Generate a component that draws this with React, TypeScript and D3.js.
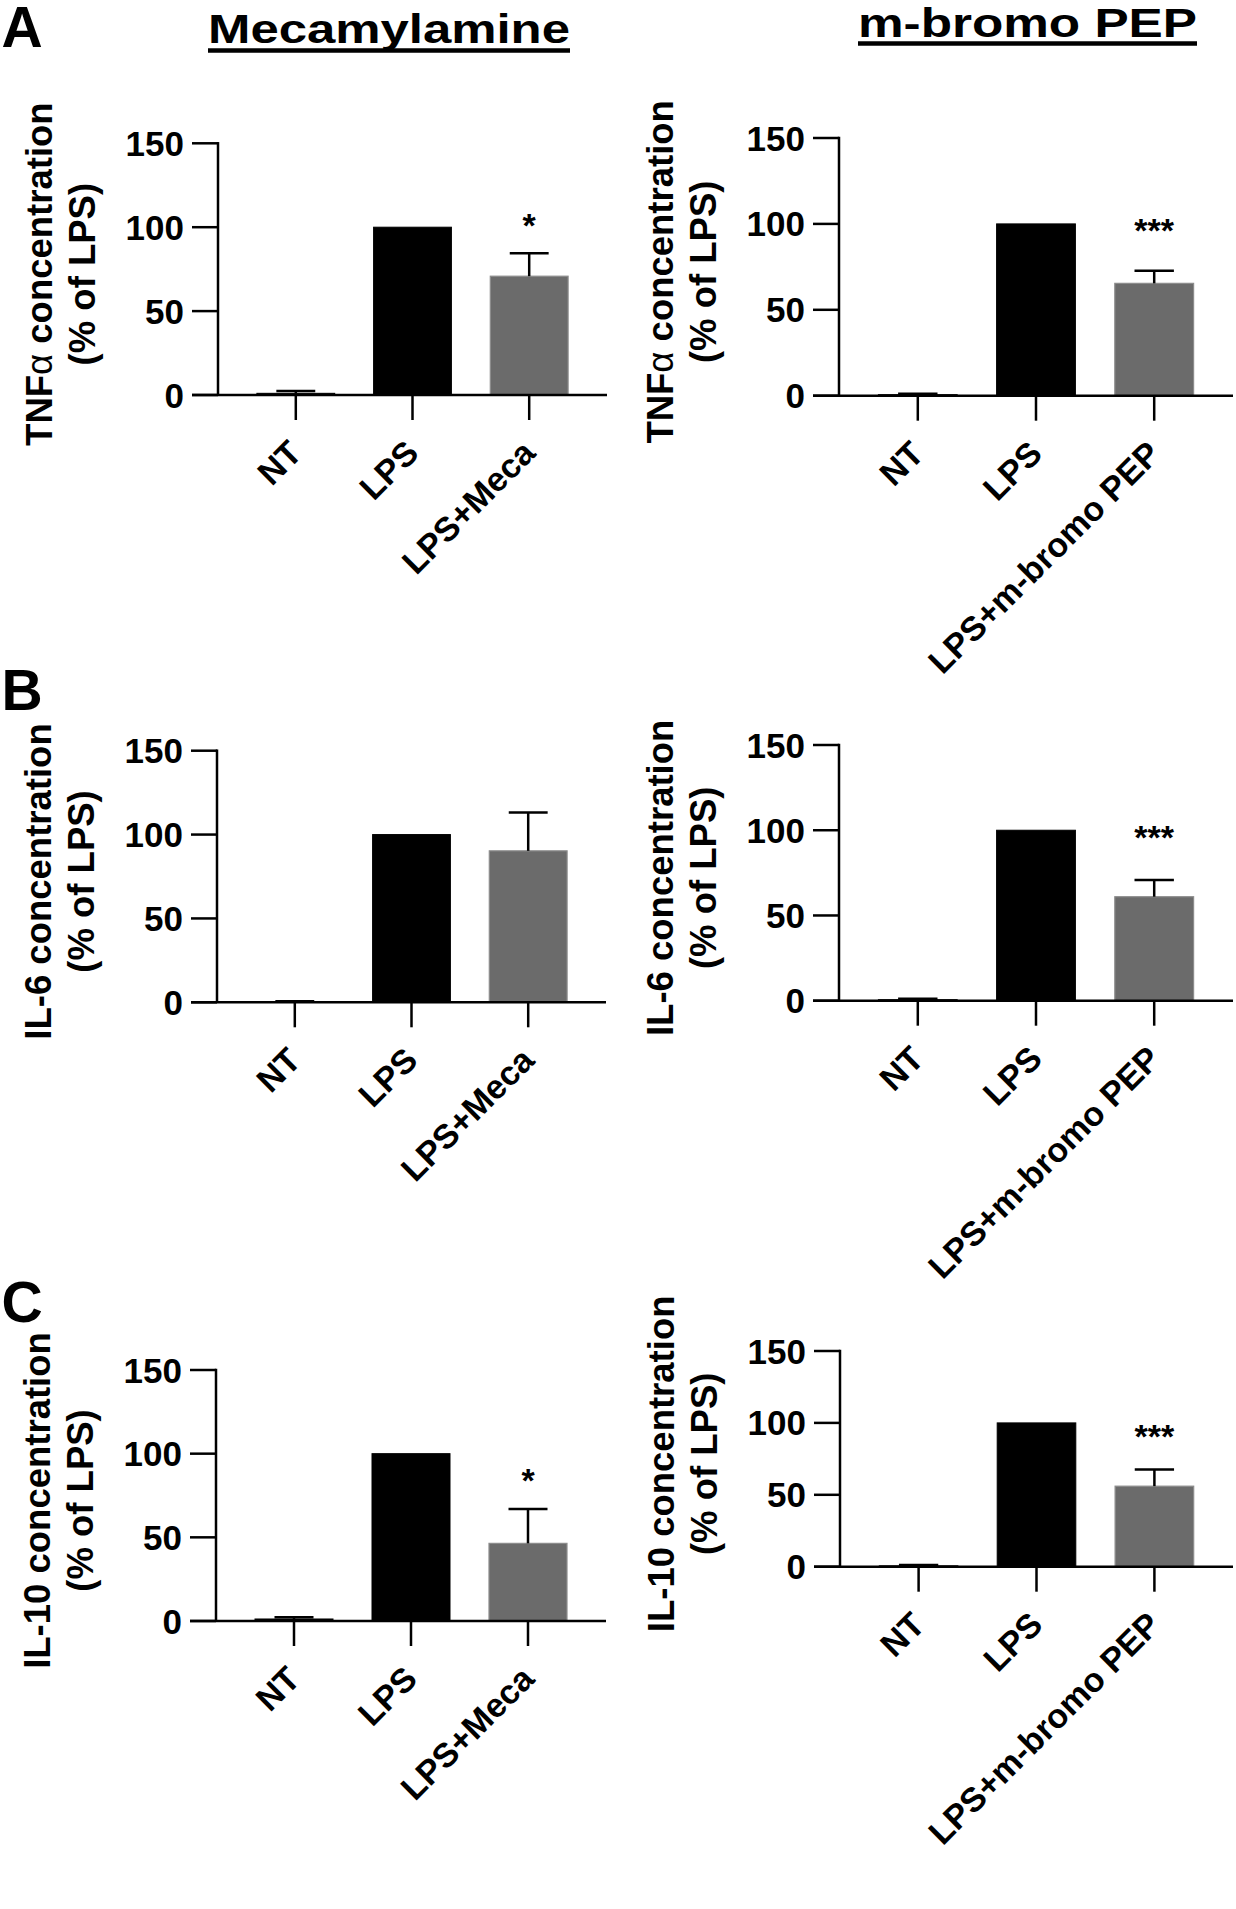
import React from "react";
import * as d3 from "d3";

// groups
const mecaGroups = ["NT", "LPS", "LPS+Meca"];
const bromoGroups = ["NT", "LPS", "LPS+m-bromo PEP"];

// means (% of LPS) and SEM
const tnfMecaMean = [1.0, 100, 70.8];
const tnfMecaSem = [1.4, 0, 13.7];
const tnfBromoMean = [0.6, 100, 65.4];
const tnfBromoSem = [0.5, 0, 7.4];
const il6MecaMean = [0.3, 100, 90.3];
const il6MecaSem = [0.4, 0, 22.9];
const il6BromoMean = [0.6, 100, 61.0];
const il6BromoSem = [0.6, 0, 9.8];
const il10MecaMean = [1.2, 100, 46.4];
const il10MecaSem = [1.0, 0, 20.5];
const il10BromoMean = [0.6, 100, 56.0];
const il10BromoSem = [0.6, 0, 11.6];

// significance marks and where they sit (data units)
const tnfMecaStar = ["", "", "*"];
const tnfBromoStar = ["", "", "***"];
const il6MecaStar = ["", "", ""];
const il6BromoStar = ["", "", "***"];
const il10MecaStar = ["", "", "*"];
const il10BromoStar = ["", "", "***"];
const starLevel = [105.4, 100.5, 100, 100.2, 88.4, 95.9];

const yTicks = [0, 50, 100, 150];
const yMax = 150;
const columnTitles = ["Mecamylamine", "m-bromo PEP"];
const rowLetters = ["A", "B", "C"];

const barColors = ["#000000", "#000000", "#6b6b6b"];
const FONT = "'Liberation Sans', Arial, Helvetica, sans-serif";

interface PanelProps {
  left: number;
  right: number;
  top: number; // y of 150
  bottom: number; // y of 0
  groups: string[];
  mean: number[];
  sem: number[];
  stars: string[];
  starY: number;
  cytokine: string;
  alpha?: boolean;
}

function Panel({ left, right, top, bottom, groups, mean, sem, stars, starY, cytokine, alpha }: PanelProps) {
  const x = d3.scaleBand<string>().domain(groups).range([left, right]).paddingInner(1 / 3).paddingOuter(1 / 3);
  const y = d3.scaleLinear().domain([0, yMax]).range([bottom, top]);
  const bw = x.bandwidth();
  const tickLen = 26;
  const xTickLen = 25;
  const cy = (top + bottom) / 2 + 5;

  return (
    <g>
      {/* bars */}
      {groups.map((g, i) => {
        const x0 = x(g) || 0;
        const cx = x0 + bw / 2;
        const yv = y(mean[i]);
        const ye = y(mean[i] + sem[i]);
        return (
          <g key={g}>
            <rect
              x={x0}
              y={yv}
              width={bw}
              height={Math.max(0, bottom - yv)}
              fill={barColors[i]}
              stroke={i === 2 ? "#8c8c8c" : "#000"}
              strokeWidth={i === 2 ? 1.2 : 1}
            />
            {sem[i] > 0 && (
              <g stroke="#000" strokeWidth={2.5}>
                <line x1={cx} x2={cx} y1={yv} y2={ye} />
                <line x1={cx - bw / 4} x2={cx + bw / 4} y1={ye} y2={ye} />
              </g>
            )}
            {stars[i] && (
              <text
                x={cx}
                y={y(starY) + 19}
                textAnchor="middle"
                fontFamily={FONT}
                fontWeight={700}
                fontSize={34}
              >
                {stars[i]}
              </text>
            )}
          </g>
        );
      })}

      {/* axes */}
      <g stroke="#000" strokeWidth={2.5} fill="none">
        <line x1={left} x2={left} y1={top - 1.25} y2={bottom} />
        <line x1={left - tickLen} x2={right} y1={bottom} y2={bottom} />
        {yTicks.map((t) => (
          <line key={t} x1={left - tickLen} x2={left} y1={y(t)} y2={y(t)} />
        ))}
        {groups.map((g) => {
          const cx = (x(g) || 0) + bw / 2;
          return <line key={g} x1={cx} x2={cx} y1={bottom} y2={bottom + xTickLen} />;
        })}
      </g>
      {yTicks.map((t) => (
        <text
          key={t}
          x={left - tickLen - 8}
          y={y(t) + 12.5}
          textAnchor="end"
          fontFamily={FONT}
          fontWeight={700}
          fontSize={35}
        >
          {t}
        </text>
      ))}

      {/* x tick labels */}
      {groups.map((g) => {
        const cx = (x(g) || 0) + bw / 2;
        const ax = cx + 8;
        const ay = bottom + xTickLen + 35;
        return (
          <text
            key={g}
            transform={`translate(${ax},${ay}) rotate(-45)`}
            textAnchor="end"
            fontFamily={FONT}
            fontWeight={700}
            fontSize={34}
          >
            {g}
          </text>
        );
      })}

      {/* y axis title */}
      <g transform={`translate(${left},${cy}) rotate(-90)`} fontFamily={FONT} fontWeight={700} fontSize={36.5}>
        <text x={0} y={-166} textAnchor="middle">
          {cytokine}
          {alpha && <tspan fontWeight={400}>α</tspan>}
          {" concentration"}
        </text>
        <text x={0} y={-123} textAnchor="middle">
          (% of LPS)
        </text>
      </g>
    </g>
  );
}

export default function App() {
  const width = 1236;
  const height = 1909;

  const leftCol = { left: 218, right: 607 };
  const rightCol = { left: 839, right: 1233 };

  const panels: PanelProps[] = [
    { ...leftCol, top: 143.3, bottom: 395, groups: mecaGroups, mean: tnfMecaMean, sem: tnfMecaSem, stars: tnfMecaStar, starY: starLevel[0], cytokine: "TNF", alpha: true },
    { ...rightCol, top: 138, bottom: 395.7, groups: bromoGroups, mean: tnfBromoMean, sem: tnfBromoSem, stars: tnfBromoStar, starY: starLevel[1], cytokine: "TNF", alpha: true },
    { left: 217, right: 606, top: 750.7, bottom: 1002.3, groups: mecaGroups, mean: il6MecaMean, sem: il6MecaSem, stars: il6MecaStar, starY: starLevel[2], cytokine: "IL-6" },
    { ...rightCol, top: 745, bottom: 1000.7, groups: bromoGroups, mean: il6BromoMean, sem: il6BromoSem, stars: il6BromoStar, starY: starLevel[3], cytokine: "IL-6" },
    { left: 216, right: 606, top: 1370, bottom: 1621, groups: mecaGroups, mean: il10MecaMean, sem: il10MecaSem, stars: il10MecaStar, starY: starLevel[4], cytokine: "IL-10" },
    { left: 840, right: 1233, top: 1351, bottom: 1566.7, groups: bromoGroups, mean: il10BromoMean, sem: il10BromoSem, stars: il10BromoStar, starY: starLevel[5], cytokine: "IL-10" },
  ];

  const letterY = [47, 710, 1322];
  const titles = [
    { x: 208, w: 362, base: 43, ul: 50.5 },
    { x: 858, w: 339, base: 37, ul: 43.5 },
  ];

  return (
    <svg
      width={width}
      height={height}
      viewBox={`0 0 ${width} ${height}`}
      style={{ position: "absolute", left: 0, top: 0, background: "#fff" }}
    >
      <rect width={width} height={height} fill="#fff" />
      {rowLetters.map((l, i) => (
        <text key={l} x={1.5} y={letterY[i]} fontFamily={FONT} fontWeight={700} fontSize={57}>
          {l}
        </text>
      ))}
      {columnTitles.map((t, i) => (
        <g key={t}>
          <text
            x={titles[i].x}
            y={titles[i].base}
            fontFamily={FONT}
            fontWeight={700}
            fontSize={40}
            textLength={titles[i].w}
            lengthAdjust="spacingAndGlyphs"
          >
            {t}
          </text>
          <line
            x1={titles[i].x}
            x2={titles[i].x + titles[i].w}
            y1={titles[i].ul}
            y2={titles[i].ul}
            stroke="#000"
            strokeWidth={4.5}
          />
        </g>
      ))}
      {panels.map((p, i) => (
        <Panel key={i} {...p} />
      ))}
    </svg>
  );
}
